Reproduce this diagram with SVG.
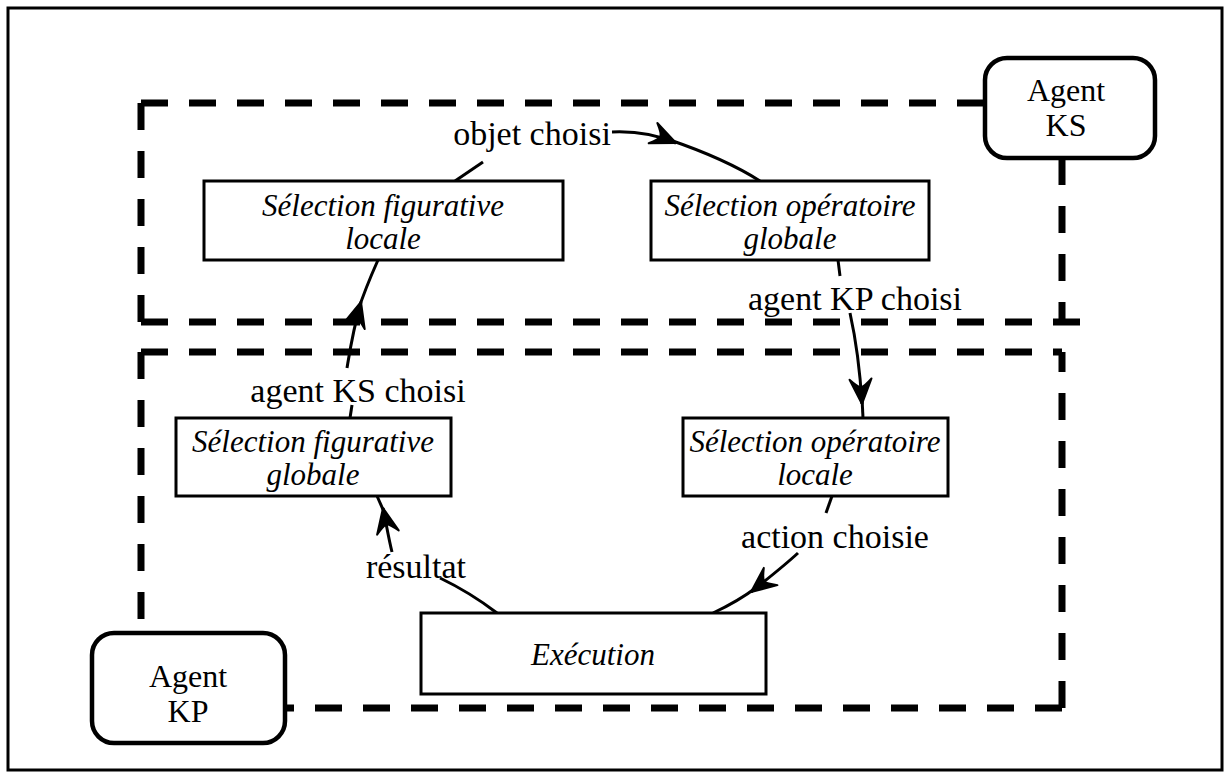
<svg xmlns="http://www.w3.org/2000/svg" width="1232" height="778" viewBox="0 0 1232 778">
<defs>
<style>
.frame{fill:none;stroke:#000;stroke-width:3}
.dash{fill:none;stroke:#000;stroke-width:7;stroke-dasharray:27 21}
.box{fill:#fff;stroke:#000;stroke-width:3}
.agent{fill:#fff;stroke:#000;stroke-width:4.5}
.conn{fill:none;stroke:#000;stroke-width:3}
.it{font-family:"Liberation Serif",serif;font-style:italic;font-size:31px;text-anchor:middle;fill:#000}
.lb{font-family:"Liberation Serif",serif;font-size:34px;text-anchor:middle;fill:#000}
.ag{font-family:"Liberation Serif",serif;font-size:32px;text-anchor:middle;fill:#000}
</style>
<marker id="arr" viewBox="-28 -14 30 28" markerWidth="30" markerHeight="28" refX="0" refY="0" orient="auto" markerUnits="userSpaceOnUse">
<path d="M0,0 L-25,-11 Q-17,-3 -17,0 Q-17,3 -25,11 Z" fill="#000" stroke="#000" stroke-width="2" stroke-linejoin="round"/>
</marker>
</defs>
<rect x="0" y="0" width="1232" height="778" fill="#fff"/>
<rect class="frame" x="8" y="8" width="1214" height="762"/>

<g id="regions">
<path class="dash" d="M141,103 H985"/>
<path class="dash" d="M141,103 V322"/>
<path class="dash" d="M141,322 H1082"/>
<path class="dash" d="M1062,158 V322"/>
<path class="dash" d="M141,352 H1062"/>
<path class="dash" d="M141,352 V632"/>
<path class="dash" d="M1062,708 H285"/>
<path class="dash" d="M1062,708 V352"/>
</g>

<g id="connectors">
<path class="conn" d="M455,181 L483,162"/>
<path class="conn" marker-end="url(#arr)" d="M612,132 C635,131 655,134 676,143"/>
<path class="conn" d="M670,140 C705,152 735,165 760,181"/>
<path class="conn" d="M838,260 L840,276"/>
<path class="conn" marker-end="url(#arr)" d="M850,313 C856,340 860,370 862,404"/>
<path class="conn" d="M862,398 L863,418"/>
<path class="conn" d="M832,496 L826,513"/>
<path class="conn" marker-end="url(#arr)" d="M798,553 C785,565 770,577 751,592"/>
<path class="conn" d="M757,587 C740,600 728,606 713,613"/>
<path class="conn" d="M497,613 C480,600 465,590 440,578"/>
<path class="conn" marker-end="url(#arr)" d="M392,552 C389,540 387,528 383,508"/>
<path class="conn" d="M385,514 L377,496"/>
<path class="conn" d="M350,418 L352,405"/>
<path class="conn" marker-end="url(#arr)" d="M347,368 C350,350 353,330 361,302"/>
<path class="conn" d="M358,311 C364,292 370,278 378,260"/>
</g>

<g id="agent-ks">
<rect class="agent" x="985" y="58" width="170" height="100" rx="22"/>
<text class="ag" x="1066" y="101">Agent</text>
<text class="ag" x="1066" y="136">KS</text>
</g>
<g id="agent-kp">
<rect class="agent" x="92" y="633" width="193" height="110" rx="22"/>
<text class="ag" x="188" y="687">Agent</text>
<text class="ag" x="188" y="722">KP</text>
</g>

<g id="sel-fig-locale">
<rect class="box" x="204" y="181" width="359" height="79"/>
<text class="it" x="383" y="216">Sélection figurative</text>
<text class="it" x="383" y="249">locale</text>
</g>
<g id="sel-op-globale">
<rect class="box" x="651" y="181" width="278" height="79"/>
<text class="it" x="790" y="216">Sélection opératoire</text>
<text class="it" x="790" y="249">globale</text>
</g>
<g id="sel-fig-globale">
<rect class="box" x="176" y="418" width="275" height="78"/>
<text class="it" x="313" y="452">Sélection figurative</text>
<text class="it" x="313" y="485">globale</text>
</g>
<g id="sel-op-locale">
<rect class="box" x="683" y="418" width="265" height="78"/>
<text class="it" x="815" y="452">Sélection opératoire</text>
<text class="it" x="815" y="485">locale</text>
</g>
<g id="execution">
<rect class="box" x="421" y="613" width="345" height="81"/>
<text class="it" x="593" y="665">Exécution</text>
</g>

<g id="labels">
<text class="lb" x="532" y="145">objet choisi</text>
<text class="lb" x="855" y="310">agent KP choisi</text>
<text class="lb" x="358" y="402">agent KS choisi</text>
<text class="lb" x="835" y="548">action choisie</text>
<text class="lb" x="416" y="578">résultat</text>
</g>
</svg>
